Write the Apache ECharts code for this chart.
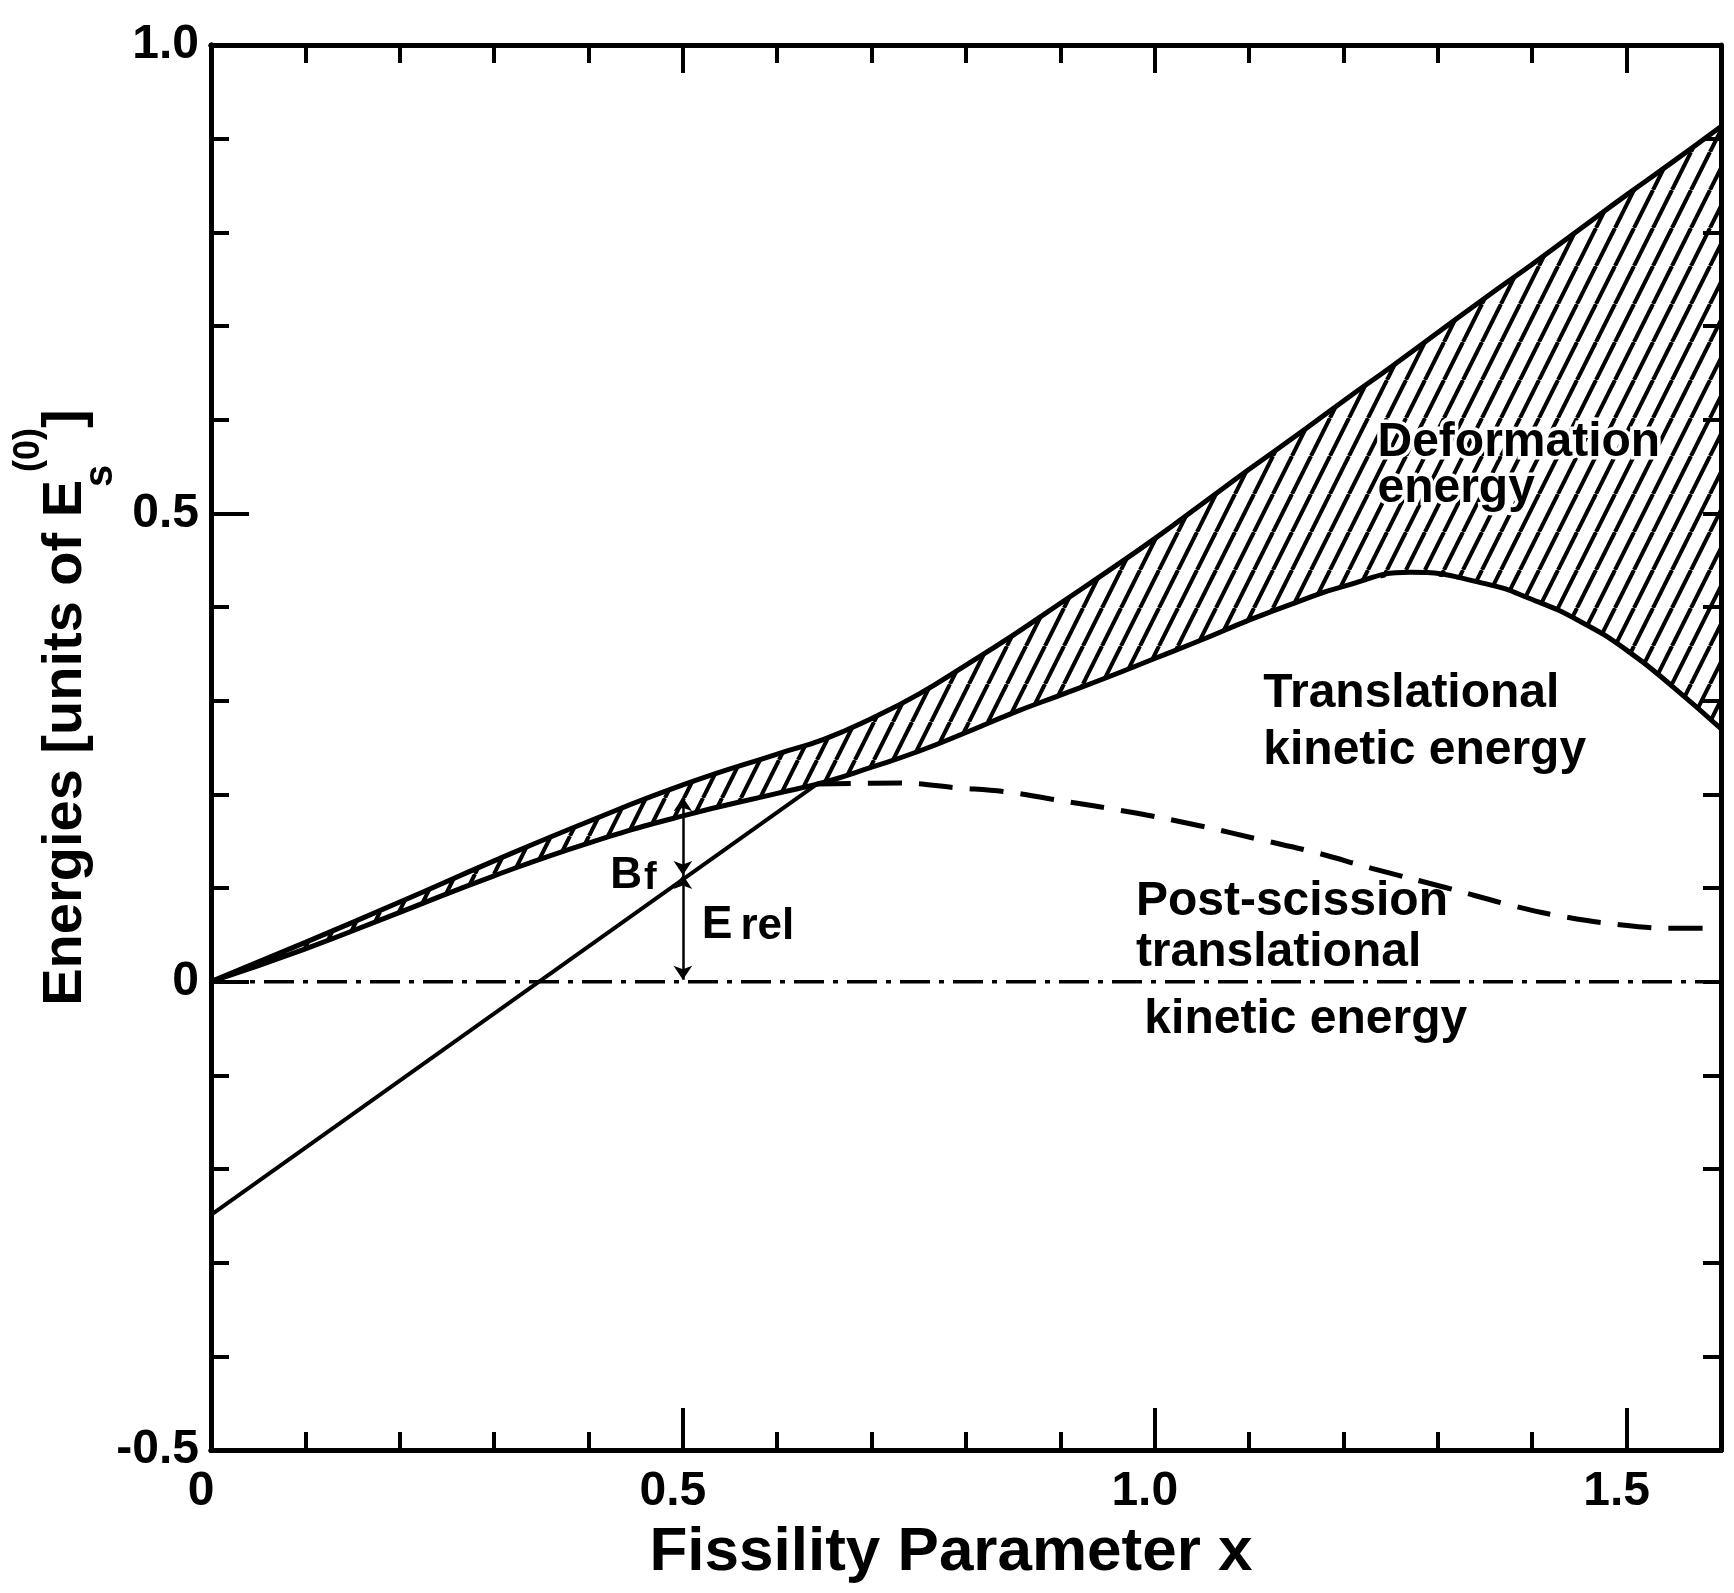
<!DOCTYPE html>
<html>
<head>
<meta charset="utf-8">
<title>Energies vs fissility parameter</title>
<script src="https://cdn.jsdelivr.net/npm/echarts@6/dist/echarts.min.js"></script>
<style>
  html, body { margin: 0; padding: 0; background: #fff; }
  #chart { width: 1734px; height: 1593px; }
</style>
</head>
<body>
<div id="chart"></div>
<script>
// values (x = fissility parameter, y = energy / Es(0))
var saddleX  = [0, 0.1, 0.2, 0.3, 0.4, 0.5, 0.6, 0.65, 0.7, 0.75, 0.8, 0.85, 0.9, 0.95, 1.0,
                1.05, 1.1, 1.15, 1.2, 1.25, 1.3, 1.35, 1.4, 1.45, 1.5, 1.55, 1.6];
var saddleE  = [0, 0.042, 0.085, 0.129, 0.171, 0.210, 0.243, 0.259, 0.281, 0.307, 0.338, 0.370, 0.404, 0.438, 0.473,
                0.510, 0.547, 0.583, 0.620, 0.656, 0.693, 0.730, 0.766, 0.803, 0.840, 0.876, 0.913];
var transX   = [0, 0.1, 0.2, 0.3, 0.4, 0.5, 0.6, 0.65, 0.7, 0.75, 0.8, 0.85, 0.9, 0.95, 1.0,
                1.05, 1.1, 1.15, 1.2, 1.27, 1.35, 1.4, 1.45, 1.5, 1.55, 1.6];
var transKE  = [0, 0.035, 0.074, 0.113, 0.148, 0.177, 0.201, 0.213, 0.229, 0.246, 0.266, 0.287, 0.306, 0.325, 0.345,
                0.365, 0.386, 0.405, 0.422, 0.437, 0.425, 0.408, 0.385, 0.354, 0.314, 0.270];
var erelX    = [0, 0.642];
var erelY    = [-0.249, 0.211];
var postX    = [0.642, 0.73, 0.79, 0.84, 0.89, 0.98, 1.05, 1.11, 1.17, 1.23, 1.31, 1.38, 1.43, 1.49, 1.55, 1.6];
var postY    = [0.211, 0.212, 0.207, 0.203, 0.195, 0.180, 0.166, 0.152, 0.138, 0.121, 0.100, 0.081, 0.070, 0.061, 0.057, 0.057];
var zeroX    = [0, 1.6];
var zeroY    = [0, 0];
var arrowX   = 0.5;
var arrowY   = [0.197, 0.114, 0.002];   // top of Bf, Bf/Erel split, bottom of Erel
var xTickVals = [0, 0.5, 1, 1.5];
var xTickText = ['0', '0.5', '1.0', '1.5'];
var yTickVals = [-0.5, 0, 0.5, 1];
var yTickText = ['-0.5', '0', '0.5', '1.0'];

var font = '"Liberation Sans", Arial, sans-serif';

function hatch() {
  var c = document.createElement('canvas');
  c.width = 19; c.height = 38;
  var g = c.getContext('2d');
  g.strokeStyle = '#000';
  g.lineWidth = 4;
  [-19, 0, 19].forEach(function (dx) {
    g.beginPath();
    g.moveTo(dx, 38);
    g.lineTo(dx + 19, 0);
    g.stroke();
  });
  return c;
}
var hatchFill = { image: hatch(), repeat: 'repeat' };

function pick(vals, txt) {
  return function (v) {
    var i = vals.indexOf(+(+v).toFixed(2));
    return i < 0 ? '' : txt[i];
  };
}

function xAx(pos, interval, len, extra) {
  var a = {
    type: 'value', position: pos, min: 0, max: 1.6, interval: interval, z: 10,
    axisLine: { show: true, onZero: false, lineStyle: { color: '#000', width: 5 } },
    axisTick: { show: true, inside: true, length: len, lineStyle: { color: '#000', width: 4 } },
    axisLabel: { show: false },
    splitLine: { show: false }
  };
  return Object.assign(a, extra || {});
}

function yAx(pos, interval, len, extra) {
  var a = {
    type: 'value', position: pos, min: -0.5, max: 1.0, interval: interval, z: 10,
    axisLine: { show: true, onZero: false, lineStyle: { color: '#000', width: 5 } },
    axisTick: { show: true, inside: true, length: len, lineStyle: { color: '#000', width: 4 } },
    axisLabel: { show: false },
    splitLine: { show: false }
  };
  return Object.assign(a, extra || {});
}

function line(xs, ys, style, smooth) {
  return {
    type: 'line', z: 4, symbol: 'none', smooth: smooth || false,
    data: xs.map(function (x, i) { return [x, ys[i]]; }),
    lineStyle: Object.assign({ color: '#000', width: 5 }, style)
  };
}

var chart = echarts.init(document.getElementById('chart'));

var noteLabel = {
  show: true, position: 'right', distance: 0, color: '#000', opacity: 1,
  fontFamily: font, fontWeight: 'bold', fontSize: 48,
  textBorderColor: '#fff', textBorderWidth: 7
};

var option = {
  animation: false,
  backgroundColor: '#fff',
  grid: { left: 211, right: 13, top: 45, bottom: 143, containLabel: false, outerBoundsMode: 'none' },
  xAxis: [
    xAx('bottom', 0.5, 42, {
      axisLabel: {
        show: true, margin: 18, color: '#000', fontFamily: font, fontWeight: 'bold', fontSize: 48,
        formatter: pick(xTickVals, xTickText), showMaxLabel: false, padding: [0, 20, 0, 0]
      },
      name: 'Fissility Parameter x', nameLocation: 'middle', nameGap: 72, nameMoveOverlap: false,
      nameTextStyle: { color: '#000', fontFamily: font, fontWeight: 'bold', fontSize: 62, padding: [0, 30, 0, 0] }
    }),
    xAx('bottom', 0.1, 18),
    xAx('top', 0.1, 18),
    xAx('top', 0.5, 28)
  ],
  yAxis: [
    yAx('left', 0.5, 38, {
      axisLabel: {
        show: true, margin: 12, color: '#000', fontFamily: font, fontWeight: 'bold', fontSize: 48,
        formatter: pick(yTickVals, yTickText)
      },
      name: '{m|Energies [units of E}{sb|s}{sp|(0)}{m|]}',
      nameLocation: 'middle', nameGap: 90, nameRotate: 90, nameMoveOverlap: false,
      nameTextStyle: {
        padding: [0, 0, 0, 80],
        rich: {
          m:  { color: '#000', fontFamily: font, fontWeight: 'bold', fontSize: 56, lineHeight: 110, verticalAlign: 'middle' },
          sb: { color: '#000', fontFamily: font, fontWeight: 'bold', fontSize: 40, lineHeight: 40, width: 8, verticalAlign: 'bottom' },
          sp: { color: '#000', fontFamily: font, fontWeight: 'bold', fontSize: 36, lineHeight: 36, verticalAlign: 'top' }
        }
      }
    }),
    yAx('left', 0.1, 18),
    yAx('right', 0.1, 18)
  ],
  series: [
    {
      // hatched deformation-energy band between the two boundary curves
      name: 'deformation', type: 'custom', z: 1, clip: true,
      data: [[saddleX[0], saddleE[0]]],
      renderItem: function (params, api) {
        var pts = [];
        for (var i = 0; i < saddleX.length; i++) pts.push(api.coord([saddleX[i], saddleE[i]]));
        for (var j = transX.length - 1; j >= 0; j--) pts.push(api.coord([transX[j], transKE[j]]));
        return { type: 'polygon', shape: { points: pts }, style: { fill: hatchFill, stroke: null } };
      }
    },
    line(saddleX, saddleE, {}, 0.5),
    line(transX, transKE, {}, 0.5),
    line(erelX, erelY, { width: 4 }),
    line(postX, postY, { type: [34, 17] }, 0.4),
    Object.assign(line(zeroX, zeroY, { width: 3.5, type: [30, 9, 5, 9] }), { z: 3 }),
    {
      name: 'arrows', type: 'lines', coordinateSystem: 'cartesian2d', z: 6,
      symbol: ['arrow', 'arrow'], symbolSize: 14,
      lineStyle: { color: '#000', width: 2.5, opacity: 1 },
      data: [
        { coords: [[arrowX, arrowY[0]], [arrowX, arrowY[1]]] },
        { coords: [[arrowX, arrowY[1]], [arrowX, arrowY[2]]] }
      ]
    },
    {
      name: 'notes', type: 'scatter', symbolSize: 0, z: 7,
      itemStyle: { opacity: 1 },
      label: noteLabel,
      data: [
        { value: [1.236, 0.551], label: { formatter: 'Deformation\nenergy', lineHeight: 46 } },
        { value: [1.115, 0.277], label: { formatter: 'Translational\nkinetic energy', lineHeight: 57 } },
        { value: [0.980, 0.058], label: { formatter: 'Post-scission\ntranslational', lineHeight: 51, textBorderWidth: 0 } },
        { value: [0.989, -0.041], label: { formatter: 'kinetic energy', lineHeight: 50 } },
        { value: [0.423, 0.113], label: {
            formatter: '{m|B}{s|f}', textBorderWidth: 0,
            rich: {
              m: { color: '#000', fontFamily: font, fontWeight: 'bold', fontSize: 44, lineHeight: 44, verticalAlign: 'top' },
              s: { color: '#000', fontFamily: font, fontWeight: 'bold', fontSize: 38, lineHeight: 38, padding: [14, 0, 0, 2], verticalAlign: 'bottom' }
            } } },
        { value: [0.520, 0.060], label: {
            formatter: '{m|E}{s|rel}', textBorderWidth: 0,
            rich: {
              m: { color: '#000', fontFamily: font, fontWeight: 'bold', fontSize: 46, lineHeight: 46, verticalAlign: 'top' },
              s: { color: '#000', fontFamily: font, fontWeight: 'bold', fontSize: 44, lineHeight: 44, padding: [14, 0, 0, 8], verticalAlign: 'bottom' }
            } } }
      ]
    }
  ]
};

chart.setOption(option);
</script>
</body>
</html>
